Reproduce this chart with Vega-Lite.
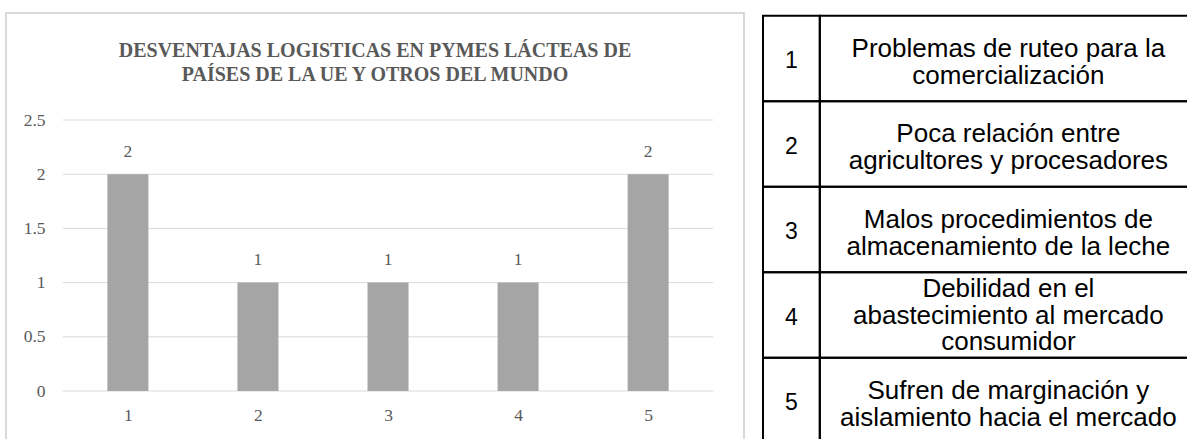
{
  "$schema": "https://vega.github.io/schema/vega-lite/v6.json",
  "padding": {"left": 5, "top": 12, "right": 0, "bottom": 0},
  "background": "white",
  "spacing": 17,
  "config": {"view": {"stroke": null}},
  "datasets": {
    "bars": [
      {"item": 1, "count": 2},
      {"item": 2, "count": 1},
      {"item": 3, "count": 1},
      {"item": 4, "count": 1},
      {"item": 5, "count": 2}
    ],
    "grid": [
      {"level": 0}, {"level": 0.5}, {"level": 1}, {"level": 1.5}, {"level": 2}, {"level": 2.5}
    ],
    "table": [
      {"n": "1", "desc": "Problemas de ruteo para la\ncomercialización"},
      {"n": "2", "desc": "Poca relación entre\nagricultores y procesadores"},
      {"n": "3", "desc": "Malos procedimientos de\nalmacenamiento de la leche"},
      {"n": "4", "desc": "Debilidad en el\nabastecimiento al mercado\nconsumidor"},
      {"n": "5", "desc": "Sufren de marginación y\naislamiento hacia el mercado"}
    ]
  },
  "hconcat": [
    {
      "width": 738,
      "height": 439,
      "view": {"stroke": "#d9d9d9", "strokeWidth": 2},
      "title": {
        "text": ["DESVENTAJAS  LOGISTICAS EN PYMES LÁCTEAS  DE", "PAÍSES DE LA UE Y OTROS DEL MUNDO"],
        "font": "Liberation Serif",
        "fontSize": 20,
        "fontWeight": "bold",
        "color": "#595959",
        "anchor": "middle",
        "frame": "group",
        "offset": -71.5,
        "lineHeight": 24
      },
      "layer": [
        {
          "data": {"name": "grid"},
          "mark": {"type": "rule", "color": "#d9d9d9", "strokeWidth": 1},
          "encoding": {
            "y": {
              "field": "level",
              "type": "quantitative",
              "scale": {"domain": [-0.5627, 3.4871], "nice": false, "zero": false},
              "axis": {
                "title": null,
                "values": [0, 0.5, 1, 1.5, 2, 2.5],
                "labelExpr": "datum.value + ''",
                "grid": false,
                "domain": false,
                "ticks": false,
                "tickSize": 0,
                "labelPadding": 0,
                "offset": -39,
                "labelFont": "Liberation Serif",
                "labelFontSize": 17.5,
                "labelColor": "#595959"
              }
            },
            "x": {
              "datum": 0.5,
              "type": "quantitative",
              "scale": {"domain": [0.1013, 5.6986], "nice": false, "zero": false},
              "axis": {
                "title": null,
                "values": [1, 2, 3, 4, 5],
                "format": "d",
                "grid": false,
                "domain": false,
                "ticks": false,
                "tickSize": 0,
                "labelPadding": 0,
                "offset": -46,
                "labelFont": "Liberation Serif",
                "labelFontSize": 17.5,
                "labelColor": "#595959"
              }
            },
            "x2": {"datum": 5.5}
          }
        },
        {
          "data": {"name": "bars"},
          "mark": {"type": "bar", "color": "#a5a5a5", "size": 41},
          "encoding": {
            "x": {"field": "item", "type": "quantitative"},
            "y": {"field": "count", "type": "quantitative"},
            "y2": {"datum": 0}
          }
        },
        {
          "data": {"name": "bars"},
          "mark": {"type": "text", "baseline": "alphabetic", "dy": -17.5, "font": "Liberation Serif", "fontSize": 17.5, "color": "#595959"},
          "encoding": {
            "x": {"field": "item", "type": "quantitative"},
            "y": {"field": "count", "type": "quantitative"},
            "text": {"field": "count", "type": "quantitative"}
          }
        }
      ]
    },
    {
      "width": 426,
      "height": 439,
      "data": {"name": "table"},
      "layer": [
        {
          "mark": {"type": "rect", "filled": false, "color": "black", "strokeWidth": 2},
          "encoding": {
            "y": {
              "field": "n",
              "type": "ordinal",
              "scale": {"paddingInner": 0, "paddingOuter": 0.0673, "align": 0.235},
              "axis": null
            },
            "x": {"datum": 0, "type": "quantitative", "scale": {"domain": [0, 7.5], "nice": false, "zero": false}, "axis": null},
            "x2": {"datum": 1}
          }
        },
        {
          "mark": {"type": "rect", "filled": false, "color": "black", "strokeWidth": 2},
          "encoding": {
            "y": {"field": "n", "type": "ordinal"},
            "x": {"datum": 1, "type": "quantitative"},
            "x2": {"datum": 7.6}
          }
        },
        {
          "mark": {"type": "text", "font": "Liberation Sans", "fontSize": 23, "color": "black", "baseline": "middle", "dy": 3},
          "encoding": {
            "y": {"field": "n", "type": "ordinal"},
            "x": {"datum": 0.5, "type": "quantitative"},
            "text": {"field": "n"}
          }
        },
        {
          "transform": [{"filter": "datum.n != '4'"}],
          "mark": {"type": "text", "font": "Liberation Sans", "fontSize": 26, "lineHeight": 27, "lineBreak": "\n", "color": "black", "baseline": "middle", "dy": -9.5},
          "encoding": {
            "y": {"field": "n", "type": "ordinal"},
            "x": {"datum": 4.32, "type": "quantitative"},
            "text": {"field": "desc"}
          }
        },
        {
          "transform": [{"filter": "datum.n == '4'"}],
          "mark": {"type": "text", "font": "Liberation Sans", "fontSize": 26, "lineHeight": 26.5, "lineBreak": "\n", "color": "black", "baseline": "middle", "dy": -25.5},
          "encoding": {
            "y": {"field": "n", "type": "ordinal"},
            "x": {"datum": 4.32, "type": "quantitative"},
            "text": {"field": "desc"}
          }
        }
      ]
    }
  ]
}
